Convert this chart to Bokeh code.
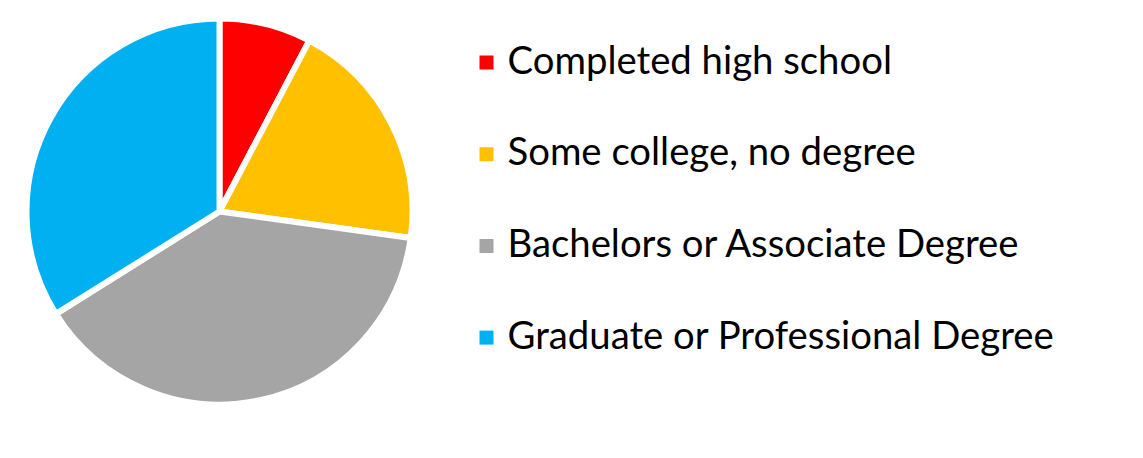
import math
from bokeh.plotting import figure
from bokeh.models import ColumnDataSource
from bokeh.core.properties import value
from bokeh.embed import file_html
from bokeh.resources import INLINE

categories = ["Completed high school", "Some college, no degree",
              "Bachelors or Associate Degree", "Graduate or Professional Degree"]
shares = [7.7, 19.5, 38.9, 33.9]
colors = ["#FF0000", "#FFC000", "#A5A5A5", "#00B0F0"]

W, H = 1127, 442
p = figure(width=W, height=H, x_range=(0, W), y_range=(0, H),
           x_axis_type=None, y_axis_type=None, toolbar_location=None,
           output_backend="svg", min_border=0)
p.grid.visible = False
p.outline_line_color = None

total = sum(shares)
starts, ends = [], []
cum = 0.0
for s in shares:
    starts.append(math.pi / 2 - cum / total * 2 * math.pi)
    cum += s
    ends.append(math.pi / 2 - cum / total * 2 * math.pi)

cx, cy = 219, H - 211
src = ColumnDataSource(dict(x=[cx] * 4, y=[cy] * 4, start=starts, end=ends,
                            color=colors, label=categories))
p.wedge(x="x", y="y", radius=193, radius_units="screen", start_angle="start",
        end_angle="end", direction="clock", fill_color="color",
        line_color="white", line_width=6, source=src)

# legend
step = 91.7
leg = ColumnDataSource(dict(x=[486] * 4, y=[H - 62 - i * step for i in range(4)],
                            tx=[507] * 4,
                            ty=[H - 58 - i * step for i in range(4)],
                            color=colors, label=categories))
p.scatter(x="x", y="y", marker="square", size=14, fill_color="color",
          line_color=None, source=leg)
p.text(x="tx", y="ty", text="label", text_font=value("Lato"),
       text_font_size="38.3px", text_baseline="alphabetic", text_color="black",
       source=leg)

open("out.html", "w").write(file_html(p, INLINE))
